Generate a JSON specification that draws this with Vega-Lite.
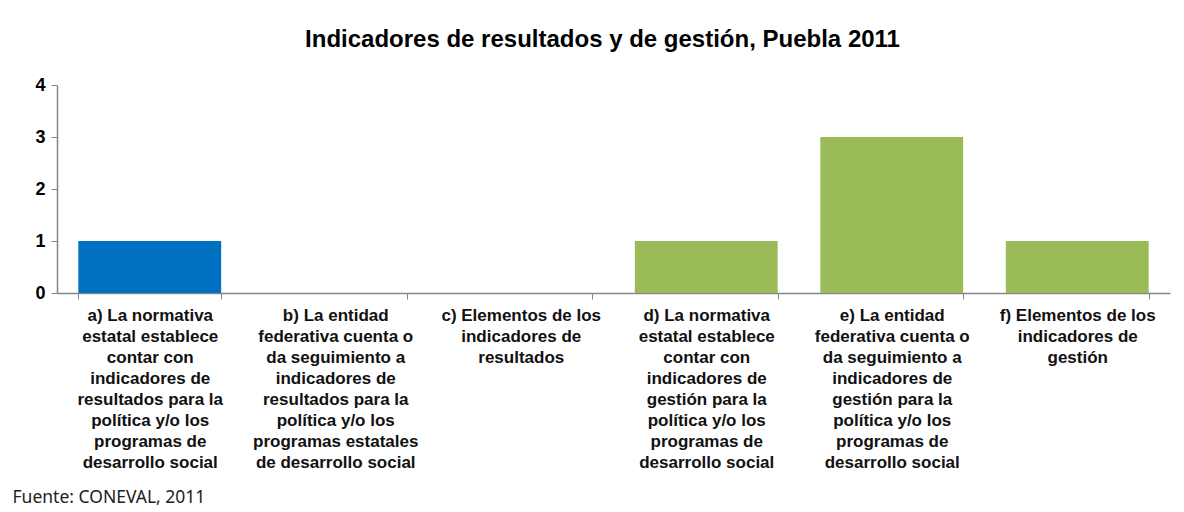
{
  "$schema": "https://vega.github.io/schema/vega-lite/v6.json",
  "autosize": "none",
  "width": 1113,
  "height": 208,
  "padding": {"left": 57, "top": 85, "right": 14, "bottom": 219},
  "background": "white",
  "title": {
    "text": "Indicadores de resultados y de gestión, Puebla 2011",
    "font": "Liberation Sans",
    "fontSize": 24,
    "fontWeight": "bold",
    "color": "#000000",
    "anchor": "middle",
    "dx": -11,
    "offset": 24
  },
  "config": {
    "view": {"stroke": null},
    "axis": {"grid": false}
  },
  "data": {
    "values": [
      {"categoria": "a) La normativa|estatal establece|contar con|indicadores de|resultados para la|política y/o los|programas de|desarrollo social", "valor": 1, "grupo": "resultados"},
      {"categoria": "b) La entidad|federativa cuenta o|da seguimiento a|indicadores de|resultados para la|política y/o los|programas estatales|de desarrollo social", "valor": 0, "grupo": "resultados"},
      {"categoria": "c) Elementos de los|indicadores de|resultados", "valor": 0, "grupo": "resultados"},
      {"categoria": "d) La normativa|estatal establece|contar con|indicadores de|gestión para la|política y/o los|programas de|desarrollo social", "valor": 1, "grupo": "gestion"},
      {"categoria": "e) La entidad|federativa cuenta o|da seguimiento a|indicadores de|gestión para la|política y/o los|programas de|desarrollo social", "valor": 3, "grupo": "gestion"},
      {"categoria": "f) Elementos de los|indicadores de|gestión", "valor": 1, "grupo": "gestion"}
    ]
  },
  "mark": {"type": "bar"},
  "encoding": {
    "x": {
      "field": "categoria",
      "type": "nominal",
      "sort": null,
      "scale": {"paddingInner": 0.23, "paddingOuter": 0.115},
      "axis": {
        "title": "Fuente: CONEVAL, 2011",
        "titleFont": "Noto Sans",
        "titleFontSize": 17.5,
        "titleFontWeight": "normal",
        "titleColor": "#222222",
        "titleAlign": "left",
        "titleAnchor": "start",
        "titleBaseline": "middle",
        "titleX": -45,
        "titleY": 204,
        "labelExpr": "split(datum.label, '|')",
        "labelAngle": 0,
        "labelFont": "Liberation Sans",
        "labelFontSize": 17,
        "labelFontWeight": "bold",
        "labelColor": "#111111",
        "labelLineHeight": 21,
        "labelLimit": 400,
        "labelPadding": 8,
        "labelBaseline": "top",
        "tickBand": "extent",
        "tickSize": 6,
        "tickColor": "#868686",
        "domainColor": "#868686",
        "domainWidth": 1.5
      }
    },
    "y": {
      "field": "valor",
      "type": "quantitative",
      "scale": {"domain": [0, 4], "nice": false},
      "axis": {
        "title": null,
        "values": [0, 1, 2, 3, 4],
        "labelFont": "Liberation Sans",
        "labelFontSize": 18,
        "labelFontWeight": "bold",
        "labelColor": "#000000",
        "labelPadding": 6,
        "tickSize": 6,
        "tickColor": "#868686",
        "domainColor": "#868686",
        "domainWidth": 1.5
      }
    },
    "color": {
      "field": "grupo",
      "type": "nominal",
      "scale": {"domain": ["resultados", "gestion"], "range": ["#0070C0", "#9BBB59"]},
      "legend": null
    }
  }
}
